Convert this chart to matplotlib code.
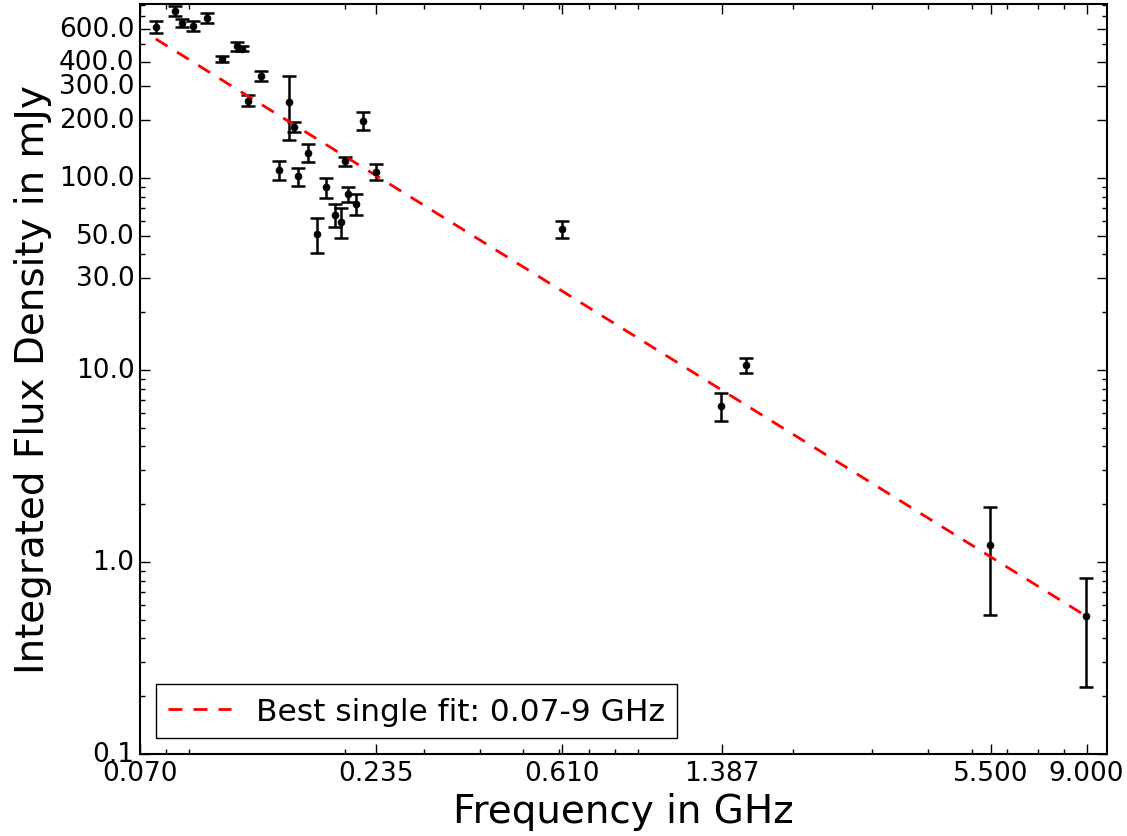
import numpy as np
import matplotlib
matplotlib.use('Agg')
import matplotlib.pyplot as plt
from matplotlib.ticker import FormatStrFormatter

# frequencies in GHz, flux densities and errors in mJy
freq = [0.0759, 0.0837, 0.0868, 0.0917, 0.0988, 0.1067, 0.1149, 0.1179,
        0.130, 0.1216, 0.1505, 0.1544, 0.2197, 0.143, 0.1576, 0.1657,
        0.1816, 0.1738, 0.190, 0.1965, 0.2037, 0.2119, 0.200, 0.2348,
        0.609, 1.382, 1.571, 5.49, 8.97]
flux = [614, 744, 642, 617, 681, 417, 485, 470,
        340, 253, 248, 184, 199, 110, 102, 135,
        89.5, 51.1, 64.2, 59.2, 82.6, 73.2, 122, 108,
        54.1, 6.52, 10.6, 1.23, 0.523]
flux_err = [44, 45, 31, 37, 43, 16, 28, 14,
            20, 17, 90, 11.5, 21, 12, 11, 14.5,
            10.7, 10.5, 9, 10.3, 7.5, 8.8, 7, 10,
            5.5, 1.1, 1.0, 0.70, 0.30]

# power-law fit S = S1 * nu^alpha
fit_alpha = -1.45
fit_s1ghz = 12.6
fit_label = 'Best single fit: 0.07-9 GHz'

xtick_vals = [0.07, 0.235, 0.61, 1.387, 5.5, 9.0]
ytick_vals = [0.1, 1, 10, 30, 50, 100, 200, 300, 400, 600]

plt.style.use('classic')
plt.rcParams['font.family'] = ['DejaVu Sans']

fig = plt.figure(figsize=(11.27, 8.37), dpi=100, facecolor='white')
ax = fig.add_axes([0.1242, 0.098, 0.8581, 0.896])

ax.errorbar(freq, flux, yerr=flux_err, fmt='ko', markersize=5,
            elinewidth=1.8, capsize=5, capthick=1.8, ecolor='k')

nu = np.linspace(min(freq), max(freq), 200)
ax.plot(nu, fit_s1ghz * nu ** fit_alpha, color='red', linewidth=2,
        linestyle=(0, (10, 8)), label=fit_label)

ax.set_xscale('log')
ax.set_yscale('log')
ax.set_xlim(0.07, 10)
ax.set_ylim(0.1, 805)

ax.set_xticks(xtick_vals)
ax.xaxis.set_major_formatter(FormatStrFormatter('%.3f'))
ax.set_yticks(ytick_vals)
ax.yaxis.set_major_formatter(FormatStrFormatter('%.1f'))
ax.tick_params(which='major', length=7, width=1, labelsize=19)
ax.tick_params(which='minor', length=3.5, width=1)
for s in ax.spines.values():
    s.set_linewidth(1.5)

ax.set_xlabel('Frequency in GHz', fontsize=28)
ax.set_ylabel('Integrated Flux Density in mJy', fontsize=28)

ax.legend(loc='lower left', fontsize=22.5, numpoints=1, handlelength=2)

fig.savefig('out.png', dpi=100, facecolor='white')
